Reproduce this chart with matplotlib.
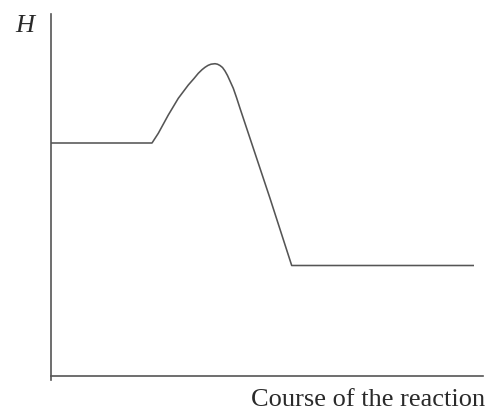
import matplotlib
matplotlib.use("Agg")
import matplotlib.pyplot as plt

# Reaction course (arbitrary units) and enthalpy H (arbitrary units)
course = [0, 101, 107.3, 117.3, 127.3, 137.3, 143, 147.3, 151, 154, 157, 160, 164,
          166.5, 169, 171.5, 174, 176.5, 179, 182.3, 185.5, 189, 199, 219, 240.7, 423]
enthalpy = [233, 233, 242.7, 261, 277.7, 291, 297.5, 302.7, 306.3, 308.7, 310.6, 311.8, 312.3,
            311.8, 310.5, 308.5, 305, 300.5, 295, 287.7, 278.5, 267.7, 237.7, 177.7, 110.5, 110.5]

x_label = "Course of the reaction"
y_label = "H"

W, H = 489, 416
fig = plt.figure(figsize=(W / 100, H / 100), dpi=100)
ax = fig.add_axes([51 / W, (H - 376) / H, (483 - 51) / W, (376 - 14) / H])
ax.set_xlim(0, 432)
ax.set_ylim(0, 362)
for s in ("top", "right"):
    ax.spines[s].set_visible(False)
for s in ("left", "bottom"):
    ax.spines[s].set_color("#555555")
    ax.spines[s].set_linewidth(1.2)
ax.spines["left"].set_bounds(-4, 362)
ax.set_xticks([])
ax.set_yticks([])
ax.patch.set_alpha(0)

ax.plot(course, enthalpy, color="#555555", linewidth=1.15,
        solid_joinstyle="round", solid_capstyle="butt")

fig.text(485 / W, 1 - 406 / H, x_label, ha="right", va="baseline",
         family="Liberation Serif", fontsize=19, color="#2a2a2a")
fig.text(24.5 / W, 1 - 31.5 / H, y_label, ha="center", va="baseline",
         family="Liberation Serif", style="italic", fontsize=19, color="#2a2a2a")

fig.savefig("out.png", dpi=100)
